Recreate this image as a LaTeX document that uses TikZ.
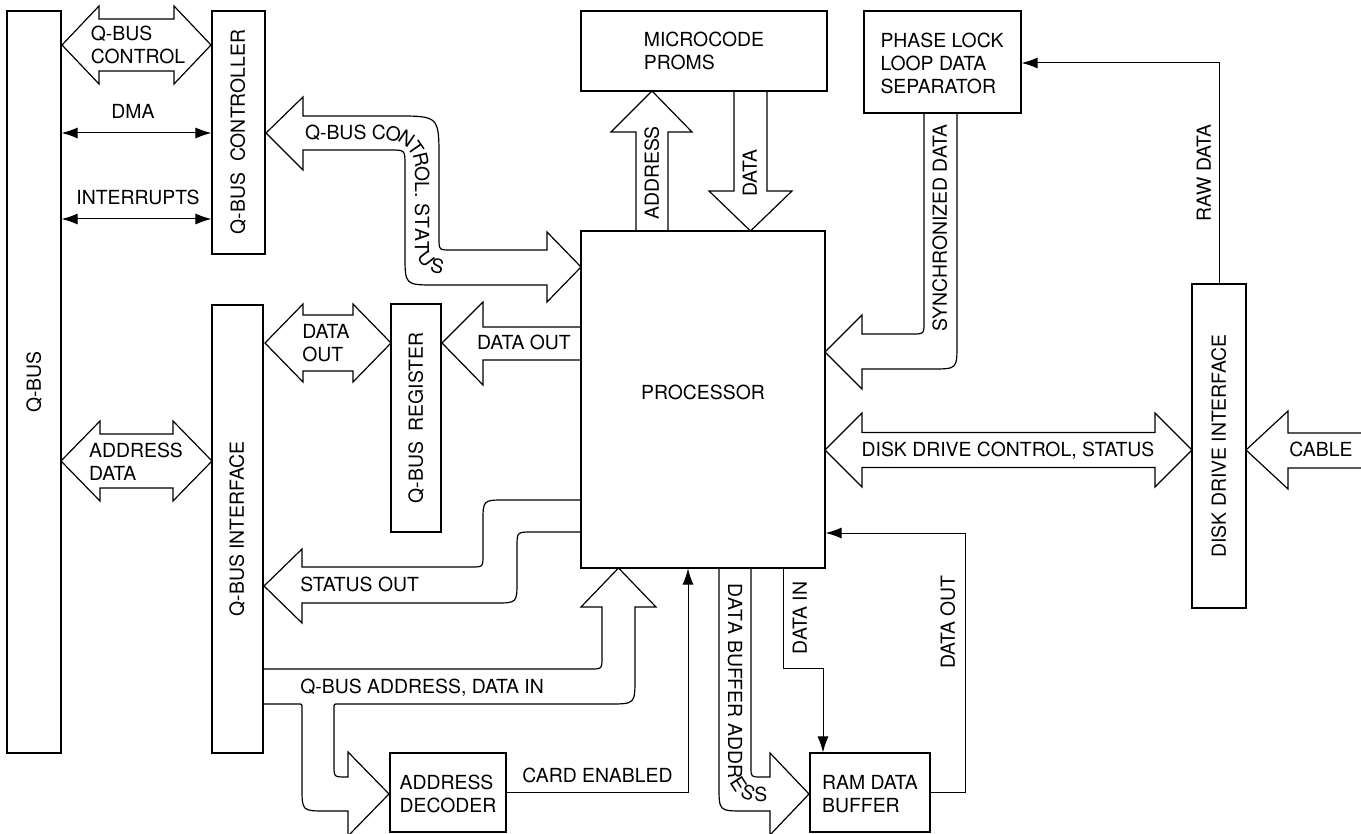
\documentclass[tikz,border=0pt]{standalone}
\usepackage{fontspec}
\setmainfont{TeX Gyre Heros}
\usetikzlibrary{arrows.meta,fit,decorations.text}
\newcommand\lblfont{\fontsize{9.7}{11.5}\selectfont}
\newcommand\dblH[6]{% xl xr yc shafthalf headhalf headlen
  \draw[blk] (#1,#3) -- (#1+#6,#3-#5) -- (#1+#6,#3-#4) -- (#2-#6,#3-#4) -- (#2-#6,#3-#5) -- (#2,#3)
    -- (#2-#6,#3+#5) -- (#2-#6,#3+#4) -- (#1+#6,#3+#4) -- (#1+#6,#3+#5) -- cycle;}
\tikzset{
  box/.style={draw, line width=0.6pt, inner sep=0pt},
  blk/.style={draw, line width=0.6pt, line join=miter},
  conn/.style={draw, line width=0.5pt},
  lbl/.style={inner sep=0pt, font=\lblfont, text height=6.9pt, text depth=0pt},
  mlbl/.style={inner sep=0pt, font=\lblfont, align=left},
  >={Latex[length=8pt,width=5.5pt]}
}
\begin{document}
\begin{tikzpicture}[x=0.5pt,y=-0.5pt]
\useasboundingbox (0,0) rectangle (1361,834);

% ---------- boxes ----------
\node[box, fit={(7,11)(61,753)}] (qbus) {};
\node[box, fit={(212,11)(265,254)}] (qctl) {};
\node[box, fit={(581,11)(827,91)}] (proms) {};
\node[box, fit={(864,11)(1021,113)}] (pll) {};
\node[box, fit={(212,305)(263,753)}] (qif) {};
\node[box, fit={(391,304)(441,532)}] (qreg) {};
\node[box, fit={(581,231)(825,568)}] (proc) {};
\node[box, fit={(1192,284)(1246,608)}] (disk) {};
\node[box, fit={(390,753)(506,832)}] (addec) {};
\node[box, fit={(810,753)(930,832)}] (ram) {};

% ---------- box labels ----------
\node[lbl, rotate=90] (qbusT) at (34,382) {Q-BUS};
\node[lbl, rotate=90] (qctlT) at (238,132) {Q-BUS\ \ CONTROLLER};
\node[mlbl] (promsT) at (704,51) {MICROCODE\\PROMS};
\node[mlbl] (pllT) at (942,63) {PHASE LOCK\\LOOP DATA\\SEPARATOR};
\node[lbl, rotate=90] (qifT) at (237,529) {Q-BUS INTERFACE};
\node[lbl, rotate=90] (qregT) at (416,418) {Q-BUS\ \ REGISTER};
\node[lbl] (procT) at (703,393) {PROCESSOR};
\node[lbl, rotate=90] (diskT) at (1219,446) {DISK DRIVE INTERFACE};
\node[mlbl] (addecT) at (448,794) {ADDRESS\\DECODER};
\node[mlbl] (ramT) at (870,794) {RAM DATA\\BUFFER};

% ---------- double block arrows ----------
\dblH{62}{211}{45}{26}{39}{37}
\node[mlbl] (qbcT) at (138,45) {Q-BUS\\CONTROL};
\dblH{61}{212}{461}{27}{40}{39}
\node[mlbl] (adT) at (136,462) {ADDRESS\\DATA};
\dblH{265}{391}{343}{28}{39}{38}
\node[mlbl] (do2T) at (326,343) {DATA\\OUT};
\dblH{825}{1192}{450}{17.5}{37}{37}
\node[lbl] (ddcT) at (1008,450) {DISK DRIVE CONTROL, STATUS};

% ---------- single block arrows ----------
% data out: processor -> register
\draw[blk] (581,327) -- (483,327) -- (483,302) -- (442,343) -- (483,385) -- (483,360) -- (581,360);
\node[lbl] (doT) at (524,343) {DATA OUT};
% cable
\draw[blk] (1361,433) -- (1288,433) -- (1288,411) -- (1246,450) -- (1288,489) -- (1288,468) -- (1361,468);
\node[lbl] (cabT) at (1321,450) {CABLE};
% address up
\draw[blk] (636,231) -- (636,132) -- (611,132) -- (652,91) -- (692,132) -- (668,132) -- (668,231);
\node[lbl, rotate=90] (addrT) at (652,173) {ADDRESS};
% data down
\draw[blk] (734,91) -- (734,191) -- (709,191) -- (750.5,231) -- (792,191) -- (767,191) -- (767,91);
\node[lbl, rotate=90] (dataT) at (750,173) {DATA};
% synchronized data
\draw[blk] (924,113) -- (924,322) .. controls (924,334) .. (912,334) -- (862,334) -- (862,315) -- (825,352)
  -- (862,389) -- (862,369) -- (932,369) .. controls (957,369) .. (957,344) -- (957,113);
\node[lbl, rotate=90] (syncT) at (940,228) {SYNCHRONIZED DATA};

% q-bus control, status
\draw[blk] (303,116) -- (396,116) .. controls (439,116) .. (439,159) -- (439,238) .. controls (439,250) .. (451,250)
  -- (547,250) -- (547,232) -- (581,267) -- (547,302) -- (547,285) -- (435,285) .. controls (405,285) .. (405,255)
  -- (405,165) .. controls (405,150) .. (390,150) -- (303,150) -- (303,170) -- (266,133) -- (303,97) -- cycle;
\path[decorate, decoration={text along path, text={|\lblfont|Q-BUS CONTROL. STATUS},
    text align={left indent=1pt}, raise=-3.5pt}]
  (303,133) -- (387,133) .. controls (406.3,133) and (422,148.7) .. (422,168) -- (422,247)
  .. controls (422,258) and (431,267) .. (442,267) -- (560,267);

% status out
\draw[blk] (581,500) -- (505,500) .. controls (483,500) .. (483,522) -- (483,555) .. controls (483,567) .. (471,567)
  -- (302,567) -- (302,549) -- (264,586) -- (302,623) -- (302,603) -- (495,603) .. controls (517,603) .. (517,581)
  -- (517,547) .. controls (517,532) .. (532,532) -- (581,532);
\node[lbl, anchor=west] (soT) at (300,585) {STATUS OUT};

% q-bus address, data in
\draw[blk] (263,669) -- (590,669) .. controls (602,669) .. (602,657) -- (602,607) -- (581,607) -- (618.5,568)
  -- (656,607) -- (635,607) -- (635,678) .. controls (635,704) .. (609,704) -- (338,704) .. controls (334,704) .. (334,708)
  -- (334,765) .. controls (334,777) .. (346,777) -- (348,777) -- (348,752) -- (389,794) -- (348,836) -- (348,811)
  -- (326,811) .. controls (302,811) .. (302,787) -- (302,708) .. controls (302,704) .. (298,704) -- (263,704);
\node[lbl, anchor=west] (qadT) at (300,687) {Q-BUS ADDRESS, DATA IN};

% data buffer address
\draw[blk] (719,568) -- (719,786) .. controls (719,811) .. (744,811) -- (770,811) -- (770,835) -- (809,794)
  -- (770,753) -- (770,777) -- (761,777) .. controls (751,777) .. (751,767) -- (751,568);
\path[decorate, decoration={text along path, text={|\lblfont|DATA BUFFER ADDRESS},
    text align={left indent=7.5pt}, raise=-3.5pt}]
  (735,568) -- (735,772) .. controls (735,784.2) and (744.8,794) .. (757,794) -- (800,794);

% ---------- thin connectors ----------
\coordinate (dmay) at (0,133);
\coordinate (inty) at (0,219);
\draw[conn,<->] (qbus.east |- dmay) -- (qctl.west |- dmay);
\node[lbl] (dmaT) at (133,112) {DMA};
\draw[conn,<->] (qbus.east |- inty) -- (qctl.west |- inty);
\node[lbl] (intT) at (138,198) {INTERRUPTS};

\coordinate (ce) at (688,0);
\draw[conn,->] (addec.east) -| (ce |- proc.south);
\node[lbl, anchor=west] (ceT) at (522,776) {CARD ENABLED};

\coordinate (di1) at (783,668);
\coordinate (di2) at (823,668);
\draw[conn,->] (proc.south -| di1) -- (di1) -- (di2) -- (ram.north -| di2);
\node[lbl, rotate=90] (diT) at (800,618) {DATA IN};

\coordinate (dout) at (965,533);
\draw[conn,->] (ram.east) -| (dout) -- (proc.east |- dout);
\node[lbl, rotate=90] (doutT) at (948,622) {DATA OUT};

\coordinate (rw) at (0,63);
\draw[conn,->] (disk.north) |- (pll.east |- rw);
\node[lbl, rotate=90] (rawT) at (1204,173) {RAW DATA};
\end{tikzpicture}
\end{document}
